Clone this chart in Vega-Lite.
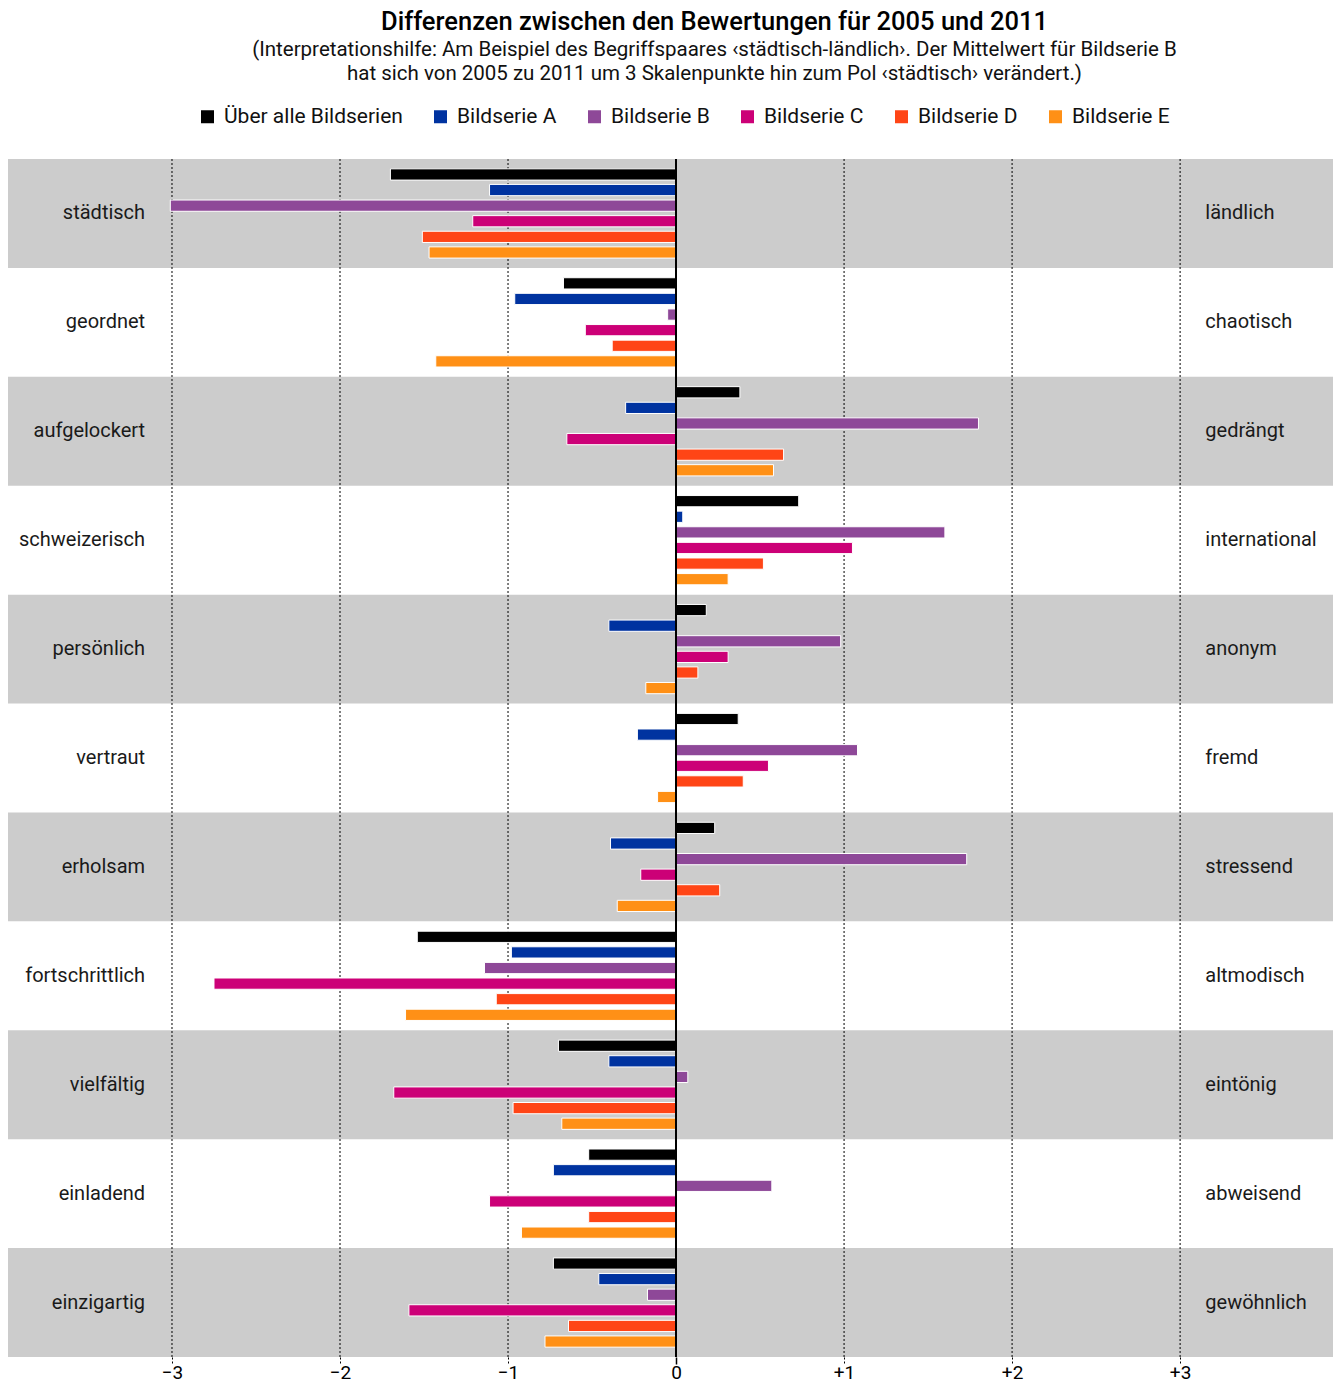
{
  "$schema": "https://vega.github.io/schema/vega-lite/v6.json",
  "width": 1325,
  "height": 1198,
  "padding": {"left": 8, "right": 4, "top": 10, "bottom": 0},
  "background": "white",
  "config": {"view": {"stroke": null}, "font": "Roboto"},
  "title": {
    "text": "Differenzen zwischen den Bewertungen für 2005 und 2011",
    "subtitle": ["(Interpretationshilfe: Am Beispiel des Begriffspaares ‹städtisch-ländlich›. Der Mittelwert für Bildserie B", "hat sich von 2005 zu 2011 um 3 Skalenpunkte hin zum Pol ‹städtisch› verändert.)"],
    "font": "Roboto",
    "fontSize": 25.5,
    "fontWeight": 500,
    "color": "#000000",
    "subtitleFont": "Roboto",
    "subtitleFontSize": 20.5,
    "subtitleColor": "#111111",
    "subtitleLineHeight": 24,
    "subtitlePadding": 4,
    "anchor": "middle",
    "dx": 44,
    "offset": 22
  },
  "datasets": {
    "cats": [
      {"cat": "städtisch", "right": "ländlich", "shade": 1},
      {"cat": "geordnet", "right": "chaotisch", "shade": 0},
      {"cat": "aufgelockert", "right": "gedrängt", "shade": 1},
      {"cat": "schweizerisch", "right": "international", "shade": 0},
      {"cat": "persönlich", "right": "anonym", "shade": 1},
      {"cat": "vertraut", "right": "fremd", "shade": 0},
      {"cat": "erholsam", "right": "stressend", "shade": 1},
      {"cat": "fortschrittlich", "right": "altmodisch", "shade": 0},
      {"cat": "vielfältig", "right": "eintönig", "shade": 1},
      {"cat": "einladend", "right": "abweisend", "shade": 0},
      {"cat": "einzigartig", "right": "gewöhnlich", "shade": 1}
    ],
    "grid": [{"v": -3}, {"v": -2}, {"v": -1}, {"v": 1}, {"v": 2}, {"v": 3}],
    "bars": [
      {"cat": "städtisch", "series": "Über alle Bildserien", "value": -1.70},
      {"cat": "städtisch", "series": "Bildserie A", "value": -1.11},
      {"cat": "städtisch", "series": "Bildserie B", "value": -3.01},
      {"cat": "städtisch", "series": "Bildserie C", "value": -1.21},
      {"cat": "städtisch", "series": "Bildserie D", "value": -1.51},
      {"cat": "städtisch", "series": "Bildserie E", "value": -1.47},
      {"cat": "geordnet", "series": "Über alle Bildserien", "value": -0.67},
      {"cat": "geordnet", "series": "Bildserie A", "value": -0.96},
      {"cat": "geordnet", "series": "Bildserie B", "value": -0.05},
      {"cat": "geordnet", "series": "Bildserie C", "value": -0.54},
      {"cat": "geordnet", "series": "Bildserie D", "value": -0.38},
      {"cat": "geordnet", "series": "Bildserie E", "value": -1.43},
      {"cat": "aufgelockert", "series": "Über alle Bildserien", "value": 0.38},
      {"cat": "aufgelockert", "series": "Bildserie A", "value": -0.30},
      {"cat": "aufgelockert", "series": "Bildserie B", "value": 1.80},
      {"cat": "aufgelockert", "series": "Bildserie C", "value": -0.65},
      {"cat": "aufgelockert", "series": "Bildserie D", "value": 0.64},
      {"cat": "aufgelockert", "series": "Bildserie E", "value": 0.58},
      {"cat": "schweizerisch", "series": "Über alle Bildserien", "value": 0.73},
      {"cat": "schweizerisch", "series": "Bildserie A", "value": 0.04},
      {"cat": "schweizerisch", "series": "Bildserie B", "value": 1.60},
      {"cat": "schweizerisch", "series": "Bildserie C", "value": 1.05},
      {"cat": "schweizerisch", "series": "Bildserie D", "value": 0.52},
      {"cat": "schweizerisch", "series": "Bildserie E", "value": 0.31},
      {"cat": "persönlich", "series": "Über alle Bildserien", "value": 0.18},
      {"cat": "persönlich", "series": "Bildserie A", "value": -0.40},
      {"cat": "persönlich", "series": "Bildserie B", "value": 0.98},
      {"cat": "persönlich", "series": "Bildserie C", "value": 0.31},
      {"cat": "persönlich", "series": "Bildserie D", "value": 0.13},
      {"cat": "persönlich", "series": "Bildserie E", "value": -0.18},
      {"cat": "vertraut", "series": "Über alle Bildserien", "value": 0.37},
      {"cat": "vertraut", "series": "Bildserie A", "value": -0.23},
      {"cat": "vertraut", "series": "Bildserie B", "value": 1.08},
      {"cat": "vertraut", "series": "Bildserie C", "value": 0.55},
      {"cat": "vertraut", "series": "Bildserie D", "value": 0.40},
      {"cat": "vertraut", "series": "Bildserie E", "value": -0.11},
      {"cat": "erholsam", "series": "Über alle Bildserien", "value": 0.23},
      {"cat": "erholsam", "series": "Bildserie A", "value": -0.39},
      {"cat": "erholsam", "series": "Bildserie B", "value": 1.73},
      {"cat": "erholsam", "series": "Bildserie C", "value": -0.21},
      {"cat": "erholsam", "series": "Bildserie D", "value": 0.26},
      {"cat": "erholsam", "series": "Bildserie E", "value": -0.35},
      {"cat": "fortschrittlich", "series": "Über alle Bildserien", "value": -1.54},
      {"cat": "fortschrittlich", "series": "Bildserie A", "value": -0.98},
      {"cat": "fortschrittlich", "series": "Bildserie B", "value": -1.14},
      {"cat": "fortschrittlich", "series": "Bildserie C", "value": -2.75},
      {"cat": "fortschrittlich", "series": "Bildserie D", "value": -1.07},
      {"cat": "fortschrittlich", "series": "Bildserie E", "value": -1.61},
      {"cat": "vielfältig", "series": "Über alle Bildserien", "value": -0.70},
      {"cat": "vielfältig", "series": "Bildserie A", "value": -0.40},
      {"cat": "vielfältig", "series": "Bildserie B", "value": 0.07},
      {"cat": "vielfältig", "series": "Bildserie C", "value": -1.68},
      {"cat": "vielfältig", "series": "Bildserie D", "value": -0.97},
      {"cat": "vielfältig", "series": "Bildserie E", "value": -0.68},
      {"cat": "einladend", "series": "Über alle Bildserien", "value": -0.52},
      {"cat": "einladend", "series": "Bildserie A", "value": -0.73},
      {"cat": "einladend", "series": "Bildserie B", "value": 0.57},
      {"cat": "einladend", "series": "Bildserie C", "value": -1.11},
      {"cat": "einladend", "series": "Bildserie D", "value": -0.52},
      {"cat": "einladend", "series": "Bildserie E", "value": -0.92},
      {"cat": "einzigartig", "series": "Über alle Bildserien", "value": -0.73},
      {"cat": "einzigartig", "series": "Bildserie A", "value": -0.46},
      {"cat": "einzigartig", "series": "Bildserie B", "value": -0.17},
      {"cat": "einzigartig", "series": "Bildserie C", "value": -1.59},
      {"cat": "einzigartig", "series": "Bildserie D", "value": -0.64},
      {"cat": "einzigartig", "series": "Bildserie E", "value": -0.78}
    ]
  },
  "layer": [
    {
      "data": {"name": "cats"},
      "transform": [{"filter": "datum.shade == 1"}],
      "mark": {"type": "rect", "color": "#cccccc"},
      "encoding": {
        "y": {"field": "cat", "type": "nominal", "axis": null,
              "scale": {"domain": ["städtisch", "geordnet", "aufgelockert", "schweizerisch", "persönlich", "vertraut", "erholsam", "fortschrittlich", "vielfältig", "einladend", "einzigartig"], "paddingInner": 0, "paddingOuter": 0}},
        "x": {"datum": -3.976, "type": "quantitative",
              "scale": {"domain": [-3.976, 3.91], "nice": false, "zero": false},
              "axis": {
                "values": [-3, -2, -1, 0, 1, 2, 3],
                "grid": false,
                "domain": false,
                "title": null,
                "tickSize": 7,
                "tickColor": "#000000",
                "tickWidth": {"condition": {"test": "datum.value === 0", "value": 1.5}, "value": 1},
                "tickDash": {"condition": {"test": "datum.value === 0", "value": [1, 0]}, "value": [2, 2]},
                "labelExpr": "datum.value > 0 ? '+' + datum.value : (datum.value < 0 ? '−' + abs(datum.value) : '0')",
                "labelFont": "Roboto",
                "labelFontSize": 19,
                "labelColor": "#000000",
                "labelPadding": -1
              }},
        "x2": {"datum": 3.91}
      }
    },
    {
      "data": {"name": "grid"},
      "mark": {"type": "rule", "color": "#000000", "strokeWidth": 1, "strokeDash": [2, 2]},
      "encoding": {
        "x": {"field": "v", "type": "quantitative", "title": null}
      }
    },
    {
      "data": {"name": "bars"},
      "mark": {"type": "bar", "stroke": "#ffffff", "strokeWidth": 1},
      "encoding": {
        "y": {"field": "cat", "type": "nominal", "axis": null,
              "scale": {"domain": ["städtisch", "geordnet", "aufgelockert", "schweizerisch", "persönlich", "vertraut", "erholsam", "fortschrittlich", "vielfältig", "einladend", "einzigartig"]}},
        "yOffset": {"field": "series", "type": "nominal",
              "scale": {"domain": ["Über alle Bildserien", "Bildserie A", "Bildserie B", "Bildserie C", "Bildserie D", "Bildserie E"], "paddingInner": 0.28, "paddingOuter": 0.63}},
        "x": {"field": "value", "type": "quantitative", "title": null},
        "color": {"field": "series", "type": "nominal",
              "scale": {"domain": ["Über alle Bildserien", "Bildserie A", "Bildserie B", "Bildserie C", "Bildserie D", "Bildserie E"],
                        "range": ["#000000", "#0033a0", "#8e4898", "#cc0077", "#ff4516", "#ff9016"]},
              "legend": {
                "title": null,
                "orient": "none",
                "direction": "horizontal",
                "legendX": 189,
                "legendY": -53,
                "symbolType": "square",
                "symbolSize": 169,
                "symbolStrokeWidth": 0,
                "symbolOpacity": 1,
                "labelFont": "Roboto",
                "labelFontSize": 21,
                "labelColor": "#111111",
                "labelOffset": 6,
                "columnPadding": 27,
                "labelLimit": 300,
                "padding": 0
              }}
      }
    },
    {
      "data": {"name": "grid"},
      "mark": {"type": "rule", "color": "#000000", "strokeWidth": 1.5},
      "encoding": {
        "x": {"datum": 0, "type": "quantitative"}
      }
    },
    {
      "data": {"name": "cats"},
      "mark": {"type": "text", "align": "right", "baseline": "middle", "font": "Roboto", "fontSize": 20, "color": "#1a1a1a"},
      "encoding": {
        "y": {"field": "cat", "type": "nominal", "axis": null,
              "scale": {"domain": ["städtisch", "geordnet", "aufgelockert", "schweizerisch", "persönlich", "vertraut", "erholsam", "fortschrittlich", "vielfältig", "einladend", "einzigartig"]}},
        "x": {"datum": -3.16, "type": "quantitative"},
        "text": {"field": "cat"}
      }
    },
    {
      "data": {"name": "cats"},
      "mark": {"type": "text", "align": "left", "baseline": "middle", "font": "Roboto", "fontSize": 20, "color": "#1a1a1a"},
      "encoding": {
        "y": {"field": "cat", "type": "nominal", "axis": null,
              "scale": {"domain": ["städtisch", "geordnet", "aufgelockert", "schweizerisch", "persönlich", "vertraut", "erholsam", "fortschrittlich", "vielfältig", "einladend", "einzigartig"]}},
        "x": {"datum": 3.15, "type": "quantitative"},
        "text": {"field": "right"}
      }
    }
  ]
}
